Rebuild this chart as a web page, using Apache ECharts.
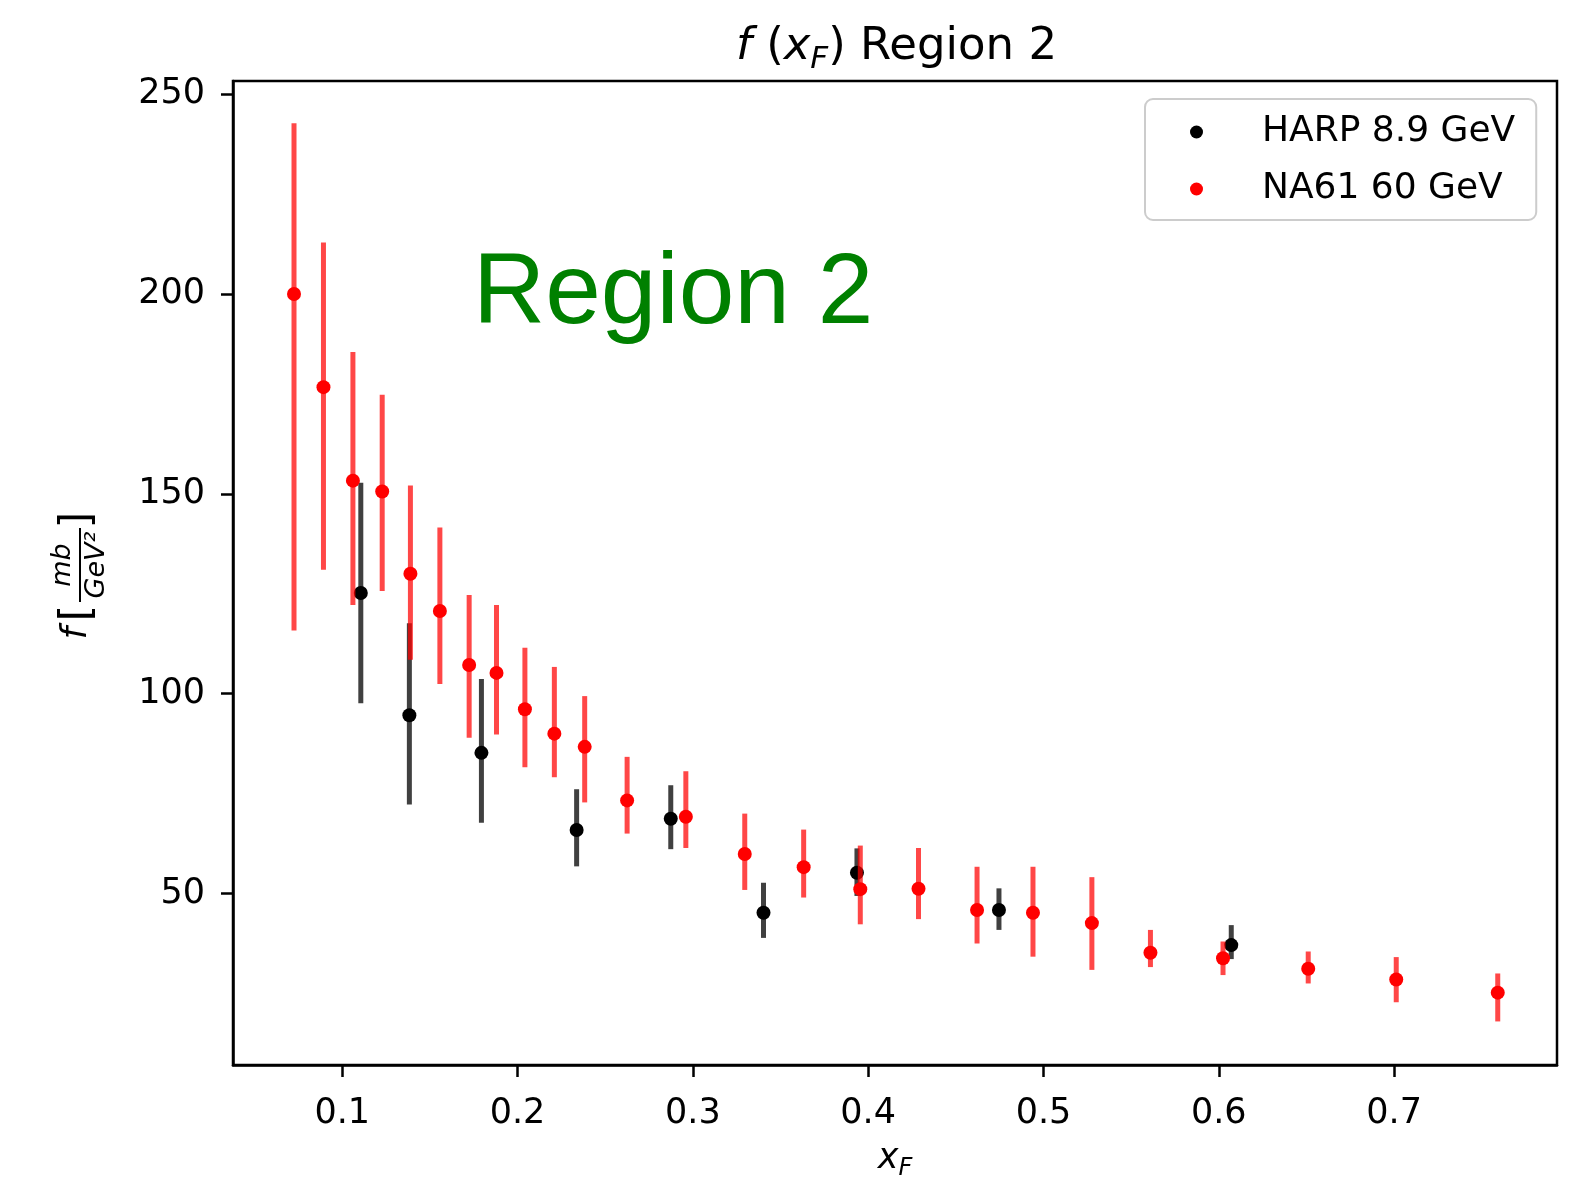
<!DOCTYPE html>
<html><head><meta charset="utf-8">
<script src="https://cdn.jsdelivr.net/npm/echarts@6/dist/echarts.min.js"></script>
<style>html,body{margin:0;padding:0;background:#fff}#c{width:1588px;height:1179px}</style>
</head><body><div id="c"></div>
<script>
// ---- data ----
const harpX  = [0.1106, 0.1383, 0.1794, 0.2337, 0.2874, 0.3403, 0.3936, 0.4746, 0.6071];
const harpY  = [125.2, 94.6, 85.2, 65.9, 68.7, 45.2, 55.2, 45.9, 37.1];
const harpHi = [152.8, 117.6, 103.7, 76.1, 77.1, 52.7, 61.3, 51.3, 42.1];
const harpLo = [97.6, 72.3, 67.7, 56.8, 61.1, 38.9, 49.4, 40.9, 33.6];

const na61X  = [0.0725, 0.0893, 0.1061, 0.1228, 0.1389, 0.1557, 0.1724, 0.1880, 0.2042, 0.2210, 0.2383, 0.2625, 0.2960,
                0.3296, 0.3632, 0.3955, 0.4287, 0.4621, 0.4940, 0.5276, 0.5610, 0.6024, 0.6510, 0.7012, 0.7591];
const na61Y  = [200.0, 176.7, 153.3, 150.6, 130.0, 120.7, 107.2, 105.2, 96.1, 90.0, 86.7, 73.3, 69.2,
                59.9, 56.6, 51.1, 51.2, 45.9, 45.2, 42.6, 35.2, 33.8, 31.2, 28.5, 25.2];
const na61Hi = [242.7, 212.9, 185.5, 174.8, 152.1, 141.6, 124.7, 122.2, 111.5, 106.7, 99.4, 84.2, 80.6,
                70.0, 66.0, 62.0, 61.4, 56.7, 56.7, 54.1, 40.9, 38.0, 35.5, 34.1, 30.0];
const na61Lo = [115.8, 131.0, 122.2, 125.7, 108.5, 102.4, 89.0, 89.8, 81.6, 79.1, 72.8, 65.0, 61.4,
                50.9, 49.0, 42.3, 43.6, 37.5, 34.2, 30.9, 31.6, 29.6, 27.5, 22.8, 18.0];

const xTicks = [0.1, 0.2, 0.3, 0.4, 0.5, 0.6, 0.7];
const yTicks = [50, 100, 150, 200, 250];
const xRange = [0.0377, 0.7929];
const yRange = [7.1, 253.3];

const seriesNames = ['HARP 8.9 GeV', 'NA61 60 GeV'];
const FONT = '"DejaVu Sans", sans-serif';

function errRender(color) {
  return function (params, api) {
    const x = api.value(0);
    const p1 = api.coord([x, api.value(1)]);
    const p2 = api.coord([x, api.value(2)]);
    return {
      type: 'line',
      shape: { x1: p1[0], y1: p1[1], x2: p2[0], y2: p2[1] },
      style: { stroke: color, lineWidth: 5 }
    };
  };
}

const chart = echarts.init(document.getElementById('c'), null, { renderer: 'canvas' });
const option = {
  backgroundColor: '#ffffff',
  animation: false,
  title: {
    left: 736, top: 19, padding: 0,
    text: '{i|f} ({i|x}{s|F}) Region 2',
    textStyle: {
      fontFamily: FONT, fontSize: 45, fontWeight: 'normal', color: '#000', lineHeight: 56,
      rich: {
        i: { fontFamily: FONT, fontSize: 45, fontStyle: 'italic', lineHeight: 56, color: '#000' },
        s: { fontFamily: FONT, fontSize: 31, fontStyle: 'italic', lineHeight: 34, verticalAlign: 'bottom', color: '#000' }
      }
    }
  },
  legend: {
    orient: 'vertical',
    left: 1145, top: 99,
    padding: [13, 21, 11, 45],
    itemWidth: 13, itemHeight: 13, itemGap: 17,
    icon: 'circle',
    data: seriesNames,
    formatter: name => '{g|}' + name,
    backgroundColor: 'rgba(255,255,255,0.8)',
    borderColor: '#cccccc', borderWidth: 2, borderRadius: 8,
    textStyle: {
      fontFamily: FONT, fontSize: 36, color: '#000', lineHeight: 40,
      rich: { g: { width: 54, height: 10 } }
    }
  },
  grid: {
    left: 233, top: 81, right: 31, bottom: 114,
    outerBoundsMode: 'none', containLabel: false,
    show: true, borderColor: '#000', borderWidth: 2.5, backgroundColor: 'transparent'
  },
  xAxis: {
    type: 'value', min: xRange[0], max: xRange[1],
    name: '{i|x}{s|F}', nameLocation: 'middle', nameGap: 72,
    nameTextStyle: {
      fontFamily: FONT, fontSize: 35, color: '#000', lineHeight: 44,
      rich: {
        i: { fontFamily: FONT, fontSize: 35, fontStyle: 'italic', lineHeight: 44, color: '#000' },
        s: { fontFamily: FONT, fontSize: 24, fontStyle: 'italic', lineHeight: 20, verticalAlign: 'bottom', color: '#000' }
      }
    },
    axisLine: { show: true, onZero: false, lineStyle: { color: '#000', width: 2.5 } },
    axisTick: { show: true, inside: false, length: 12, lineStyle: { color: '#000', width: 2.5 }, customValues: xTicks },
    axisLabel: {
      customValues: xTicks, margin: 31, fontFamily: FONT, fontSize: 35, lineHeight: 35, color: '#000',
      formatter: v => v.toFixed(1)
    },
    splitLine: { show: false }
  },
  yAxis: {
    type: 'value', min: yRange[0], max: yRange[1],
    axisLine: { show: true, onZero: false, lineStyle: { color: '#000', width: 2.5 } },
    axisTick: { show: true, inside: false, length: 12, lineStyle: { color: '#000', width: 2.5 }, customValues: yTicks },
    axisLabel: {
      customValues: yTicks, margin: 28, fontFamily: FONT, fontSize: 35, color: '#000',
      padding: [5, 0, 0, 0],
      formatter: v => String(v)
    },
    splitLine: { show: false }
  },
  series: [
    {
      name: 'HARP err', type: 'custom', renderItem: errRender('rgba(0,0,0,0.75)'),
      encode: { x: 0, y: [1, 2] },
      data: harpX.map((x, i) => [x, harpLo[i], harpHi[i]]), z: 2
    },
    {
      name: seriesNames[0], type: 'scatter', symbol: 'circle', symbolSize: 14,
      itemStyle: { color: '#000000', opacity: 1 },
      data: harpX.map((x, i) => [x, harpY[i]]), z: 3
    },
    {
      name: 'NA61 err', type: 'custom', renderItem: errRender('rgba(255,0,0,0.72)'),
      encode: { x: 0, y: [1, 2] },
      data: na61X.map((x, i) => [x, na61Lo[i], na61Hi[i]]), z: 4
    },
    {
      name: seriesNames[1], type: 'scatter', symbol: 'circle', symbolSize: 14,
      itemStyle: { color: '#ff0000', opacity: 1 },
      data: na61X.map((x, i) => [x, na61Y[i]]), z: 5
    }
  ],
  graphic: [
    {
      type: 'text', x: 473, y: 295, z: 10,
      style: { text: 'Region 2', font: '100px "Liberation Sans", Arial, sans-serif', fill: '#008000', align: 'left', verticalAlign: 'middle' }
    },
    {
      type: 'group', x: 80, y: 576, rotation: Math.PI / 2, z: 10,
      children: [
        { type: 'text', x: -57, y: -3, style: { text: 'f', font: 'italic 35px "DejaVu Sans"', fill: '#000', align: 'center', verticalAlign: 'middle' } },
        { type: 'text', x: -37, y: -1, style: { text: '[', font: '42px "DejaVu Sans"', fill: '#000', align: 'center', verticalAlign: 'middle' } },
        { type: 'text', x: 11, y: -4, style: { text: 'mb', font: 'italic 27px "DejaVu Sans"', fill: '#000', align: 'center', verticalAlign: 'bottom' } },
        { type: 'line', shape: { x1: -26, y1: 0, x2: 48, y2: 0 }, style: { stroke: '#000', lineWidth: 2 } },
        { type: 'text', x: 11, y: 3, style: { text: 'GeV²', font: 'italic 27px "DejaVu Sans"', fill: '#000', align: 'center', verticalAlign: 'top' } },
        { type: 'text', x: 56, y: -1, style: { text: ']', font: '42px "DejaVu Sans"', fill: '#000', align: 'center', verticalAlign: 'middle' } }
      ]
    }
  ]
};
chart.setOption(option);
</script>
</body></html>
